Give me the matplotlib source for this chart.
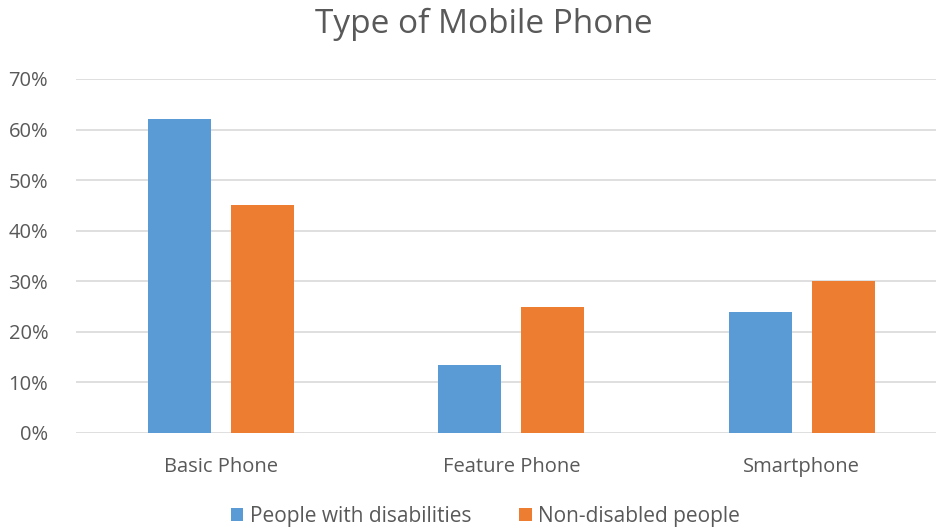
import numpy as np
import matplotlib.pyplot as plt
from matplotlib.ticker import PercentFormatter

categories = ['Basic Phone', 'Feature Phone', 'Smartphone']
disabled = [62, 13.5, 24]
non_disabled = [45, 25, 30]
series_names = ['People with disabilities', 'Non-disabled people']

BLUE = '#5b9bd5'
ORANGE = '#ed7d31'
TEXT = '#595959'

plt.rcParams['font.family'] = ['Open Sans', 'DejaVu Sans']

fig = plt.figure(figsize=(9.37, 5.31), dpi=100)
ax = fig.add_axes([76 / 937, 1 - 433 / 531, 1 - 76 / 937, (433 - 79) / 531])

x = np.arange(len(categories))
w = 0.217
off = 0.143
ax.bar(x - off, disabled, w, color=BLUE, label=series_names[0], zorder=3)
ax.bar(x + off, non_disabled, w, color=ORANGE, label=series_names[1], zorder=3)

ax.set_ylim(0, 70)
ax.set_xlim(-0.5, 2.466)
ax.set_yticks(range(0, 71, 10))
ax.yaxis.set_major_formatter(PercentFormatter(decimals=0))
ax.set_xticks(x)
ax.set_xticklabels(categories)
ax.grid(axis='y', color='#d9d9d9', linewidth=1.2, zorder=0)
for s in ax.spines.values():
    s.set_visible(False)
ax.tick_params(length=0, colors=TEXT, labelsize=14.5)
ax.tick_params(axis='x', pad=17)
ax.tick_params(axis='y', pad=20)

fig.text(0.516, 0.955, 'Type of Mobile Phone', ha='center', va='center',
         fontsize=24, color=TEXT)
fig.legend(loc='center', bbox_to_anchor=(0.518, 0.027), ncol=2, frameon=False,
           fontsize=15, labelcolor=TEXT, handlelength=0.6, handleheight=0.6,
           handletextpad=0.3, columnspacing=2.3)

fig.savefig('out.png', dpi=100)
